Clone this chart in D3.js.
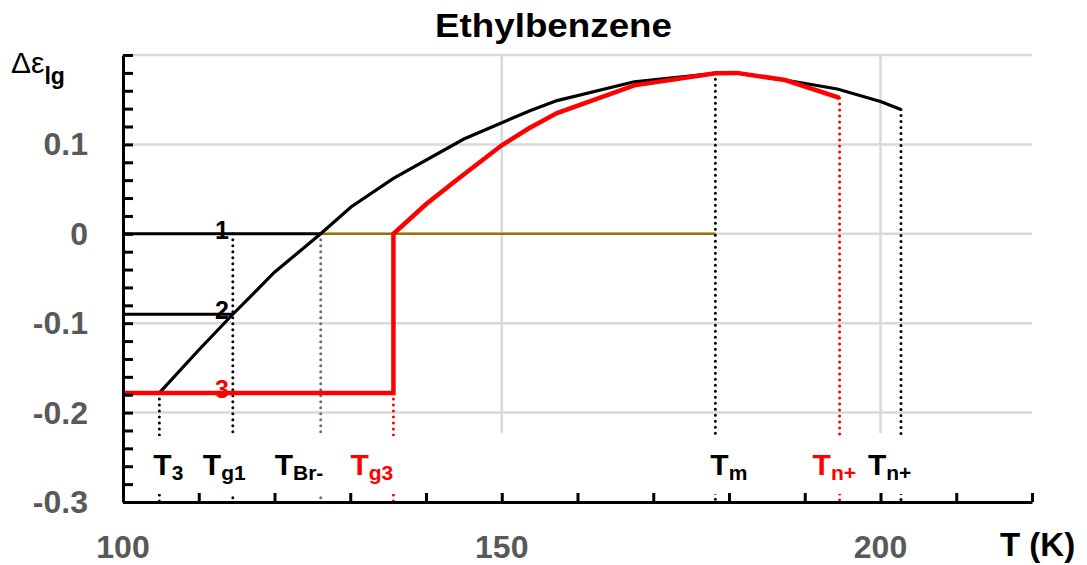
<!DOCTYPE html>
<html>
<head>
<meta charset="utf-8">
<script src="https://cdn.jsdelivr.net/npm/d3@7"></script>
<style>
  body { margin: 0; background: #fff; }
  text { font-family: "Liberation Sans", Arial, sans-serif; }
</style>
</head>
<body>
<svg id="chart" width="1087" height="565"></svg>
<script>
// data
const blackCurve = [[104.8,-0.178],[110,-0.13],[114.5,-0.09],[120,-0.043],[126.1,0],[130.1,0.03],[135.7,0.062],
  [145,0.106],[153.8,0.138],[157.3,0.149],[167.5,0.17],[178.2,0.1795],[181,0.18],[187.4,0.172],[194.3,0.162],[200,0.148],[202.7,0.139]];
const redCurve = [[100,-0.178],[135.7,-0.178],[135.7,0],[140,0.033],[143.7,0.058],[150,0.099],[153.6,0.118],[157.3,0.135],
  [167.5,0.166],[178.2,0.1795],[181,0.18],[187.4,0.172],[194.6,0.152]];
const line1 = [[100,0],[126.1,0]];
const line2 = [[100,-0.09],[114.5,-0.09]];
const brownLine = [[126.1,0],[178.2,0]];
// marker temperatures: [T, value where the dotted line starts, colour, label, subscript, label shift]
const markers = [
  [104.8,-0.178,"#000","T","3",-6],
  [114.5,0,"#000","T","g1",-30],
  [126.1,0,"#5c6f8a","T","Br-",-46],
  [135.7,-0.178,"#ff0000","T","g3",-43],
  [178.2,0.1795,"#000","T","m",-5],
  [194.6,0.152,"#ff0000","T","n+",-27],
  [202.7,0.139,"#000","T","n+",-33]
];
const lineNumbers = [["1",0,"#000"],["2",-0.09,"#000"],["3",-0.178,"#ff0000"]];
const xLabels = [100,150,200];
const yLabels = [0.1,0,-0.1,-0.2,-0.3];

const svg = d3.select("#chart");
const x = d3.scaleLinear().domain([100,220]).range([123,1032]);
const y = d3.scaleLinear().domain([-0.3,0.2]).range([502,55]);
const line = d3.line().x(d => x(d[0])).y(d => y(d[1]));

// gridlines
svg.selectAll(".hgrid").data([0.2,0.1,0,-0.1,-0.2]).join("line")
  .attr("x1", x(100)).attr("x2", x(220)).attr("y1", d => y(d)).attr("y2", d => y(d))
  .attr("stroke", "#d9d9d9").attr("stroke-width", 2.5);
svg.selectAll(".vgrid").data([150,200]).join("line")
  .attr("x1", d => x(d)).attr("x2", d => x(d)).attr("y1", y(0.2)).attr("y2", 433)
  .attr("stroke", "#d9d9d9").attr("stroke-width", 2.5);

svg.append("path").attr("d", line(brownLine)).attr("fill", "none")
  .attr("stroke", "#9a7200").attr("stroke-width", 2.5);

// dotted drop lines
svg.selectAll(".drop").data(markers).join("line")
  .attr("x1", d => x(d[0])).attr("x2", d => x(d[0]))
  .attr("y1", d => y(d[1])).attr("y2", y(-0.3))
  .attr("stroke", d => d[2]).attr("stroke-width", 3)
  .attr("stroke-linecap", "round").attr("stroke-dasharray", "0,6");

// white band behind the marker labels
svg.append("rect").attr("x", 135).attr("y", 436).attr("width", 895).attr("height", 58).attr("fill", "#fff");

svg.append("path").attr("d", line(line1)).attr("fill", "none").attr("stroke", "#000").attr("stroke-width", 3);
svg.append("path").attr("d", line(line2)).attr("fill", "none").attr("stroke", "#000").attr("stroke-width", 3);
svg.append("path").attr("d", line(blackCurve)).attr("fill", "none").attr("stroke", "#000").attr("stroke-width", 3.2);
svg.append("path").attr("d", line(redCurve)).attr("fill", "none").attr("stroke", "#ff0000").attr("stroke-width", 4.5);

// axes
svg.append("g").attr("transform", `translate(${x(100)},0)`)
  .call(d3.axisLeft(y).tickValues(d3.range(-0.3, 0.2001, 0.02)).tickSizeInner(-10).tickSizeOuter(0).tickFormat(""))
  .call(g => g.selectAll("line, path").attr("stroke", "#000").attr("stroke-width", 3));
svg.append("g").attr("transform", `translate(0,${y(-0.3)})`)
  .call(d3.axisBottom(x).tickValues(d3.range(100, 221, 10)).tickSizeInner(-9).tickSizeOuter(0).tickFormat(""))
  .call(g => g.selectAll("line, path").attr("stroke", "#000").attr("stroke-width", 3));

// tick labels
svg.selectAll(".xl").data(xLabels).join("text")
  .attr("x", d => x(d)).attr("y", 558).attr("text-anchor", "middle")
  .attr("font-size", 32).attr("font-weight", "bold").attr("fill", "#595959").text(d => d);
svg.selectAll(".yl").data(yLabels).join("text")
  .attr("x", 88).attr("y", d => y(d) + 11).attr("text-anchor", "end")
  .attr("font-size", 32).attr("font-weight", "bold").attr("fill", "#595959").text(d => d);

svg.append("text").attr("x", 435).attr("y", 37)
  .attr("font-size", 33).attr("font-weight", "bold")
  .attr("textLength", 237).attr("lengthAdjust", "spacingAndGlyphs").text("Ethylbenzene");
svg.append("text").attr("x", 1000).attr("y", 556)
  .attr("font-size", 33).attr("font-weight", "bold").text("T (K)");

const yt = svg.append("text").attr("x", 11).attr("y", 73).attr("font-size", 30);
yt.append("tspan").text("Δε");
yt.append("tspan").attr("dy", 11).attr("font-size", 23).attr("font-weight", "bold").text("lg");

// line numbers
svg.selectAll(".num").data(lineNumbers).join("text")
  .attr("x", 222).attr("y", d => y(d[1]) + 5).attr("text-anchor", "middle")
  .attr("font-size", 25).attr("font-weight", "bold").attr("fill", d => d[2]).text(d => d[0]);

// marker labels
markers.forEach(m => {
  const t = svg.append("text").attr("x", x(m[0]) + m[5]).attr("y", 475)
    .attr("font-size", 30).attr("font-weight", "bold").attr("fill", m[2] === "#5c6f8a" ? "#000" : m[2]);
  t.append("tspan").text(m[3]);
  t.append("tspan").attr("dy", 5).attr("font-size", 21).text(m[4]);
});
</script>
</body>
</html>
